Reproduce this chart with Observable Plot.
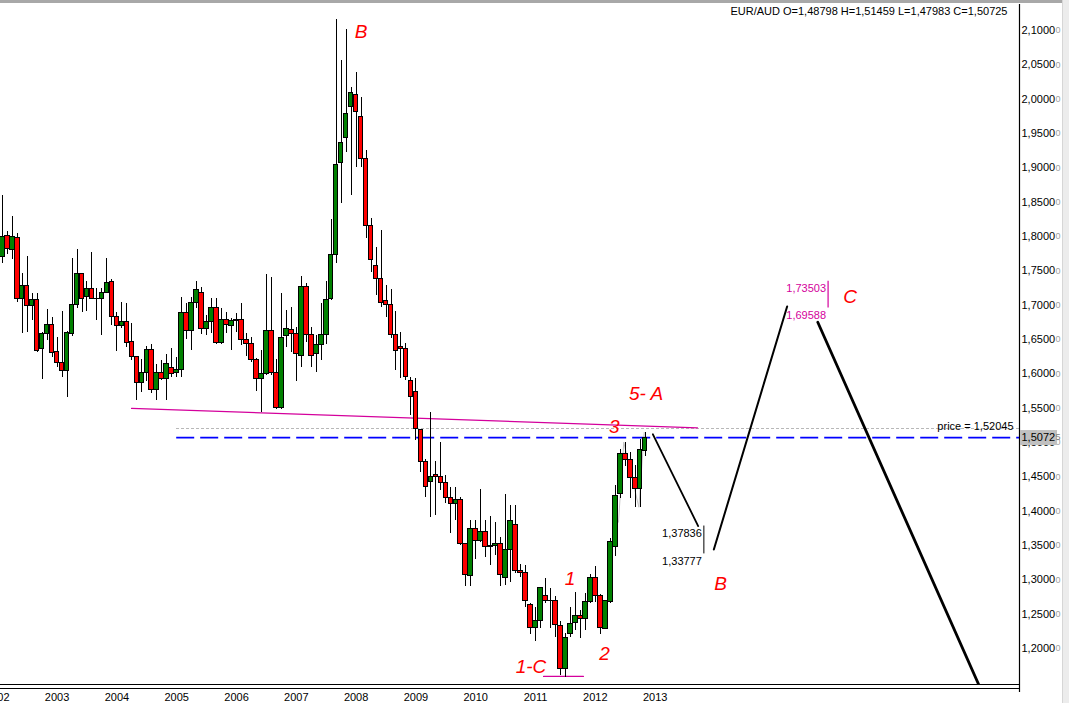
<!DOCTYPE html>
<html>
<head>
<meta charset="utf-8">
<script src="https://cdn.jsdelivr.net/npm/d3@7"></script>
<script src="https://cdn.jsdelivr.net/npm/@observablehq/plot@0.6"></script>
<style>
  html, body { margin: 0; padding: 0; background: #fff; }
  #wrap { position: relative; width: 1069px; height: 703px; overflow: hidden; }
  #topbar { position: absolute; left: 0; top: 0; width: 1069px; height: 3px; background: #a8a8a8; }
  #sidebar { position: absolute; right: 0; top: 0; width: 6px; height: 703px; background: #ececec; border-left: 1px solid #d6d6d6; }
</style>
</head>
<body>
<div id="wrap"><div id="chart"></div><div id="topbar"></div><div id="sidebar"></div></div>
<script>
// EUR/AUD monthly candles, first bar February 2002
const firstMonth = "2002-02";
const open = [
  1.7709, 1.8005, 1.7806, 1.7981, 1.7093, 1.7276, 1.6991, 1.7078, 1.6365, 1.6583,
  1.6714, 1.6315, 1.6161, 1.6044, 1.6583, 1.7006, 1.7457, 1.7122, 1.7239, 1.7093,
  1.7093, 1.7180, 1.7340, 1.6831, 1.6700, 1.6758, 1.6467, 1.6248, 1.5860, 1.6015,
  1.6344, 1.5758, 1.6015, 1.5918, 1.6082, 1.6015, 1.6049, 1.6889, 1.6617, 1.7035,
  1.7180, 1.6656, 1.6762, 1.6962, 1.6452, 1.6787, 1.6704, 1.6777, 1.6787, 1.6496,
  1.6438, 1.6205, 1.5928, 1.6001, 1.6627, 1.6015, 1.5506, 1.6558, 1.6642, 1.6583,
  1.6257, 1.7272, 1.6569, 1.6292, 1.6427, 1.6569, 1.7090, 1.7734, 1.9073, 1.9437,
  1.9889, 2.0064, 1.9743, 1.9132, 1.8146, 1.7573, 1.7384, 1.7068, 1.7006, 1.6569,
  1.6398, 1.6365, 1.5903, 1.5743, 1.5185, 1.4723, 1.4422, 1.4520, 1.4495, 1.4408,
  1.4189, 1.4108, 1.4156, 1.3525, 1.3060, 1.3744, 1.3559, 1.3694, 1.3476, 1.3486,
  1.3525, 1.3024, 1.3428, 1.3802, 1.3136, 1.3097, 1.2637, 1.2302, 1.2394, 1.2762,
  1.2685, 1.2692, 1.2325, 1.1705, 1.2215, 1.2375, 1.2471, 1.2433, 1.2675, 1.3030,
  1.2762, 1.2287, 1.2675, 1.3476, 1.4253, 1.4836, 1.4748, 1.4480, 1.4326, 1.48798
];
const high = [
  1.8597, 1.8077, 1.8291, 1.8048, 1.7457, 1.7709, 1.7166, 1.7166, 1.6607, 1.6933,
  1.6825, 1.6534, 1.6908, 1.6610, 1.7675, 1.7811, 1.7465, 1.7345, 1.7772, 1.7247,
  1.7239, 1.7675, 1.7370, 1.6898, 1.7039, 1.7020, 1.6729, 1.6255, 1.6205, 1.6398,
  1.6427, 1.6136, 1.6194, 1.6286, 1.6365, 1.6242, 1.7107, 1.7020, 1.7107, 1.7345,
  1.7253, 1.6850, 1.7093, 1.7093, 1.6947, 1.6898, 1.6802, 1.6879, 1.7020, 1.6583,
  1.6534, 1.6220, 1.6340, 1.7442, 1.7407, 1.6209, 1.7166, 1.6922, 1.6971, 1.6679,
  1.7418, 1.7311, 1.6679, 1.6558, 1.7020, 1.7345, 1.8243, 2.1156, 2.0563, 2.1010,
  2.0174, 2.0384, 2.0020, 1.9253, 1.8258, 1.7844, 1.8088, 1.7287, 1.7224, 1.6908,
  1.6602, 1.6446, 1.5951, 1.5928, 1.5195, 1.4748, 1.5442, 1.4724, 1.5005, 1.4520,
  1.4349, 1.4349, 1.4204, 1.3530, 1.3864, 1.3864, 1.4312, 1.3864, 1.3923, 1.3840,
  1.3621, 1.4239, 1.4083, 1.4083, 1.3219, 1.3209, 1.2651, 1.2602, 1.2893, 1.3015,
  1.2874, 1.2762, 1.2394, 1.2215, 1.2602, 1.2820, 1.2554, 1.2806, 1.3074, 1.3195,
  1.2782, 1.2690, 1.3598, 1.4374, 1.4900, 1.5005, 1.4859, 1.4665, 1.5044, 1.51459
];
const low = [
  1.7611, 1.7738, 1.7670, 1.7043, 1.6592, 1.6607, 1.6777, 1.6315, 1.5922, 1.6486,
  1.6242, 1.6088, 1.5942, 1.5660, 1.6544, 1.6947, 1.6889, 1.6912, 1.7085, 1.6777,
  1.6563, 1.7175, 1.6704, 1.6330, 1.6656, 1.6388, 1.6194, 1.5612, 1.5733, 1.5884,
  1.5710, 1.5612, 1.5905, 1.5612, 1.5951, 1.5951, 1.5942, 1.6500, 1.6340, 1.6947,
  1.6569, 1.6558, 1.6583, 1.6427, 1.6427, 1.6583, 1.6340, 1.6600, 1.6413, 1.6253,
  1.6170, 1.5747, 1.5442, 1.5976, 1.5976, 1.5476, 1.5476, 1.6388, 1.6315, 1.5893,
  1.6097, 1.6461, 1.6097, 1.6024, 1.6194, 1.6427, 1.7068, 1.7603, 1.8476, 1.9228,
  1.8597, 1.9009, 1.9009, 1.7967, 1.7480, 1.7141, 1.6971, 1.6825, 1.6519, 1.6049,
  1.5928, 1.5903, 1.5394, 1.5029, 1.4568, 1.4204, 1.3913, 1.3937, 1.4301, 1.4108,
  1.3671, 1.3864, 1.3500, 1.2903, 1.2903, 1.3292, 1.3549, 1.3330, 1.3209, 1.3355,
  1.2903, 1.2918, 1.2966, 1.3097, 1.3039, 1.2602, 1.2204, 1.2107, 1.2287, 1.2651,
  1.2292, 1.2165, 1.1607, 1.1583, 1.2165, 1.2263, 1.2142, 1.2263, 1.2660, 1.2675,
  1.2200, 1.2280, 1.2660, 1.3340, 1.4180, 1.4650, 1.4180, 1.4058, 1.4058, 1.47983
];
const close = [
  1.7990, 1.7821, 1.7990, 1.7093, 1.7276, 1.6991, 1.7078, 1.6336, 1.6583, 1.6714,
  1.6307, 1.6161, 1.6044, 1.6598, 1.7006, 1.7457, 1.7093, 1.7239, 1.7093, 1.7090,
  1.7180, 1.7326, 1.6831, 1.6700, 1.6758, 1.6452, 1.6248, 1.5860, 1.6015, 1.6344,
  1.5758, 1.6015, 1.5918, 1.6146, 1.6001, 1.6049, 1.6889, 1.6617, 1.7035, 1.7224,
  1.6656, 1.6762, 1.6962, 1.6452, 1.6787, 1.6714, 1.6777, 1.6787, 1.6496, 1.6438,
  1.6205, 1.5928, 1.6001, 1.6627, 1.6015, 1.5506, 1.6525, 1.6656, 1.6583, 1.6292,
  1.7272, 1.6569, 1.6253, 1.6427, 1.6569, 1.7078, 1.7734, 1.9044, 1.9365, 1.9787,
  2.0093, 1.9816, 1.9132, 1.8146, 1.7665, 1.7384, 1.7035, 1.7006, 1.6569, 1.6340,
  1.6365, 1.5951, 1.5670, 1.5200, 1.4713, 1.4349, 1.4495, 1.4495, 1.4408, 1.4189,
  1.4108, 1.4166, 1.3525, 1.3074, 1.3744, 1.3559, 1.3694, 1.3476, 1.3486, 1.3525,
  1.3074, 1.3428, 1.3850, 1.3136, 1.3097, 1.2689, 1.2302, 1.2394, 1.2884, 1.2685,
  1.2690, 1.2346, 1.1705, 1.2156, 1.2360, 1.2471, 1.2433, 1.2675, 1.3030, 1.2762,
  1.2302, 1.2685, 1.3548, 1.4228, 1.4836, 1.4748, 1.4480, 1.4326, 1.4894, 1.50725
];

// Axis ticks
const yearTicks = [2002, 2003, 2004, 2005, 2006, 2007, 2008, 2009, 2010, 2011, 2012, 2013];
const priceTicks = [1.20, 1.25, 1.30, 1.35, 1.40, 1.45, 1.50, 1.55, 1.60, 1.65,
                    1.70, 1.75, 1.80, 1.85, 1.90, 1.95, 2.00, 2.05, 2.10];

// Current bar and price levels
const symbol = "EUR/AUD";
const lastBar = {o: 1.48798, h: 1.51459, l: 1.47983, c: 1.50725};
const alertPrice = 1.52045;
const levelsFrom = "2005-01-01";

// Drawn lines
const trendDates = ["2004-03-30", "2013-09-16"];
const trendValues = [1.5496, 1.5214];
const baseDates = ["2011-02-18", "2011-10-20"];
const baseValues = [1.1593, 1.1593];
const zigzagDates = ["2012-05-21", "2012-06-22", "2012-09-23", "2012-10-26"];
const zigzagValues = [1.3840, 1.5005, 1.4058, 1.5146];

// Projected path
const legDownDates = ["2012-12-18", "2013-09-20"];
const legDownValues = [1.5120, 1.37836];
const targetBDate = "2013-10-25";
const targetBValues = [1.37836, 1.33777];
const legUpDates = ["2013-12-25", "2015-03-16"];
const legUpValues = [1.3442, 1.6981];
const targetCDate = "2015-11-22";
const targetCValues = [1.73503, 1.69588];
const legFinalDates = ["2015-09-20", "2018-08-01"];
const legFinalValues = [1.6752, 1.1135];

// Wave labels
const waveText = ["B", "5- A", "3", "1", "2", "1-C", "B", "C"];
const waveDates = ["2008-02-01", "2012-11-06", "2012-04-25", "2011-07-29", "2012-02-26", "2010-12-04", "2014-02-04", "2016-04-04"];
const waveValues = [2.0985, 1.5707, 1.5233, 1.3013, 1.1920, 1.1738, 1.2947, 1.7126];

// Visible window
const xSpan = ["2002-01-21", "2019-02-04"];
const yDomain = [1.1476, 2.1379];

// Month index counted from January 2002 (fractional for dates inside a month)
function toM(s) {
  const [y, mo, d] = s.split("-").map(Number);
  const base = (y - 2002) * 12 + (mo - 1);
  if (!d) return base;
  const dim = new Date(Date.UTC(y, mo, 0)).getUTCDate();
  return base + (d - 1) / dim;
}
const fmt = (v, n) => v.toFixed(n).replace(".", ",");

const m0 = toM(firstMonth);
const candles = open.map((o, i) => ({m: m0 + i, open: o, high: high[i], low: low[i], close: close[i]}));
const pairs = (dates, values) => dates.map((d, i) => ({m: toM(d), v: values[i]}));
const xDomain = xSpan.map(toM);
const xRight = xDomain[1];

const FONT = "'Liberation Sans', Arial, sans-serif";
const RED = "#ff0000", GREEN = "#008000", MAGENTA = "#d4009c";

const header = `${symbol} O=${fmt(lastBar.o, 5)} H=${fmt(lastBar.h, 5)} L=${fmt(lastBar.l, 5)} C=${fmt(lastBar.c, 5)}`;

const chart = Plot.plot({
  width: 1069,
  height: 703,
  marginLeft: 0,
  marginRight: 50,
  marginTop: 4,
  marginBottom: 19,
  style: {fontFamily: FONT, fontSize: "11px", background: "#fff", color: "#000"},
  x: {type: "linear", domain: xDomain},
  y: {type: "linear", domain: yDomain},
  marks: [
    // horizontal price levels
    Plot.ruleY([alertPrice], {x1: toM(levelsFrom), x2: xRight, stroke: "#b8b8b8", strokeDasharray: "3,2", shapeRendering: "crispEdges"}),
    Plot.ruleY([lastBar.c], {x1: toM(levelsFrom), x2: xRight, stroke: "#0000ff", strokeWidth: 1.8, strokeDasharray: "18,6"}),
    Plot.text([alertPrice], {x: xRight, y: d => d, text: d => `price = ${fmt(d, 5)}`, textAnchor: "end", lineAnchor: "bottom", dx: -6, dy: 2, fill: "#000"}),

    // trendline and base line
    Plot.line(pairs(trendDates, trendValues), {x: "m", y: "v", stroke: MAGENTA, strokeWidth: 1.2}),
    Plot.line(pairs(baseDates, baseValues), {x: "m", y: "v", stroke: MAGENTA, strokeWidth: 1.2}),

    // zigzag overlay
    Plot.line(pairs(zigzagDates, zigzagValues), {x: "m", y: "v", stroke: "#c4c4c4", strokeWidth: 1}),

    // candles
    Plot.ruleX(candles, {x: "m", y1: "low", y2: "high", stroke: "#000", strokeWidth: 1, shapeRendering: "crispEdges"}),
    Plot.rect(candles, {
      x1: d => d.m - 0.46, x2: d => d.m + 0.46, y1: "open", y2: "close",
      fill: d => d.close >= d.open ? GREEN : RED,
      stroke: "#000", strokeWidth: 1, shapeRendering: "crispEdges"
    }),

    // projected path
    Plot.line(pairs(legDownDates, legDownValues), {x: "m", y: "v", stroke: "#000", strokeWidth: 1.8}),
    Plot.ruleX([targetBDate], {x: d => toM(d), y1: targetBValues[0], y2: targetBValues[1], stroke: "#000", strokeWidth: 1}),
    Plot.text(targetBValues, {x: toM(targetBDate), y: d => d, text: d => fmt(d, 5), textAnchor: "end", lineAnchor: "top", dx: -2, dy: 3.5, fill: "#000"}),
    Plot.line(pairs(legUpDates, legUpValues), {x: "m", y: "v", stroke: "#000", strokeWidth: 2}),
    Plot.ruleX([targetCDate], {x: d => toM(d), y1: targetCValues[0], y2: targetCValues[1], stroke: MAGENTA, strokeWidth: 1.2}),
    Plot.text(targetCValues, {x: toM(targetCDate), y: d => d, text: d => fmt(d, 5), textAnchor: "end", lineAnchor: "top", dx: -2, dy: 3.5, fill: MAGENTA}),
    Plot.line(pairs(legFinalDates, legFinalValues), {x: "m", y: "v", stroke: "#000", strokeWidth: 2.8, clip: true}),

    // wave labels
    Plot.text(waveText, {
      x: (d, i) => toM(waveDates[i]), y: (d, i) => waveValues[i], text: d => d,
      fill: RED, fontSize: 19, fontStyle: "italic", fontFamily: FONT
    }),

    // header
    Plot.text([header], {frameAnchor: "top-right", text: d => d, textAnchor: "end", lineAnchor: "top", dx: -12, dy: 3, fill: "#000"}),

    // axes and frame
    Plot.axisX({ticks: yearTicks.map(y => toM(`${y}-01`)), tickFormat: m => String(2002 + Math.round(m / 12)), tickSize: 0, tickPadding: 9, label: null}),
    Plot.axisY({anchor: "right", ticks: priceTicks, tickSize: 0, tickPadding: 2, tickFormat: d => fmt(d, 4), label: null}),
    Plot.axisY({anchor: "right", ticks: priceTicks, tickSize: 0, tickPadding: 2, dx: 34, tickFormat: () => "0", fill: "#a0a0a0", fontSize: 9, label: null}),
    Plot.ruleX([xRight], {y1: yDomain[0], y2: yDomain[1], insetTop: 8, stroke: "#000", strokeWidth: 1.2}),
    Plot.ruleY([yDomain[0]], {stroke: "#000", strokeWidth: 1.2}),
    Plot.ruleY([yDomain[0]], {stroke: "#000", strokeWidth: 1.2, dy: 4}),

    // last price box on the price axis
    Plot.rect([lastBar], {x1: xRight, x2: xRight, y1: "c", y2: "c", insetLeft: 1, insetRight: -38, insetTop: -7, insetBottom: -8, fill: "#c0c0c0"}),
    Plot.text([lastBar], {x: xRight, y: "c", text: d => fmt(d.c, 5).slice(0, -1), textAnchor: "start", dx: 2, fill: "#000"}),
    Plot.text([lastBar], {x: xRight, y: "c", text: d => fmt(d.c, 5).slice(-1), textAnchor: "start", dx: 36, fontSize: 9, fill: "#808080"})
  ]
});

document.getElementById("chart").appendChild(chart);
</script>
</body>
</html>
